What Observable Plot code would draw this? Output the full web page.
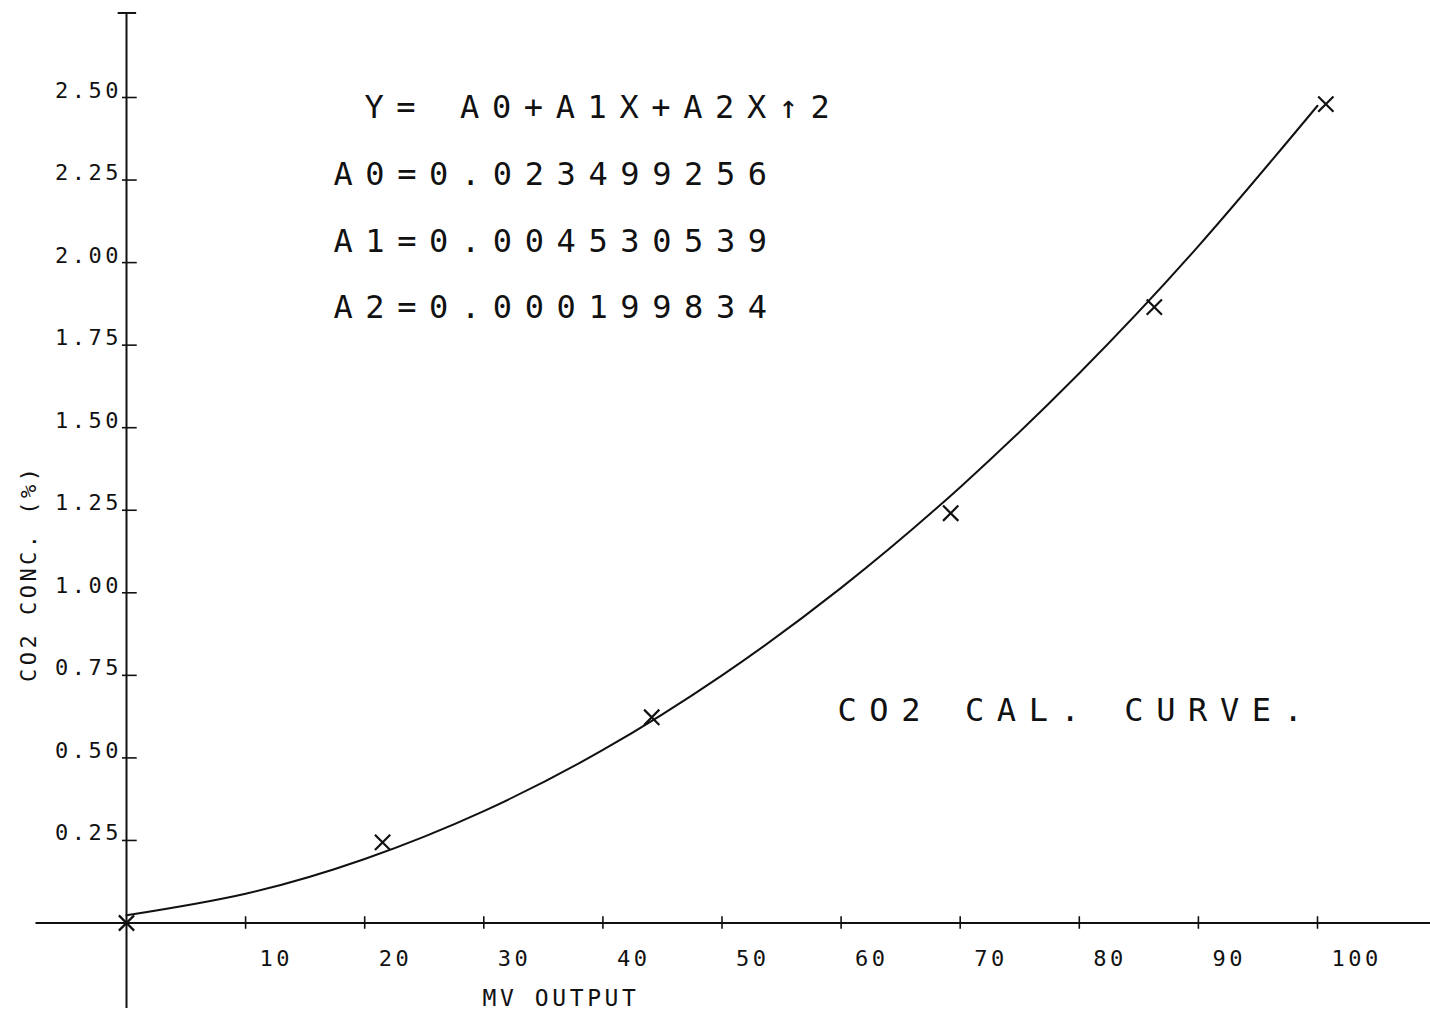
<!DOCTYPE html>
<html>
<head>
<meta charset="utf-8">
<script src="https://cdn.jsdelivr.net/npm/d3@7"></script>
<script src="https://cdn.jsdelivr.net/npm/@observablehq/plot@0.6"></script>
<style>
  html, body { margin: 0; padding: 0; background: #fff; }
  #chart svg { display: block; }
</style>
</head>
<body>
<div id="chart"></div>
<script>
// ---- data ----
const xTicks = [10, 20, 30, 40, 50, 60, 70, 80, 90, 100];
const xTickLabels = ["10", "20", "30", "40", "50", "60", "70", "80", "90", "100"];
const yTicks = [0.25, 0.5, 0.75, 1.0, 1.25, 1.5, 1.75, 2.0, 2.25, 2.5];
const yTickLabels = ["0.25", "0.50", "0.75", "1.00", "1.25", "1.50", "1.75", "2.00", "2.25", "2.50"];

// measured calibration points (MV output, CO2 %)
const pointX = [0, 21.5, 44.1, 69.2, 86.3, 100.7];
const pointY = [0.0, 0.244, 0.623, 1.241, 1.865, 2.48];

// fitted calibration curve
const curveX = [0, 10, 20, 30, 40, 50, 60, 70, 80, 90, 100];
const curveY = [0.0235, 0.0888, 0.194, 0.339, 0.524, 0.750, 1.015, 1.320, 1.665, 2.050, 2.475];

const titleX = "MV OUTPUT";
const titleY = "CO2 CONC. (%)";
const equationLines = ["Y= A0+A1X+A2X↑2", "A0=0.023499256", "A1=0.004530539", "A2=0.000199834"];
const chartNote = "CO2 CAL. CURVE.";

// ---- tables ----
const points = pointX.map((x, i) => ({x, y: pointY[i]}));
const curve = curveX.map((x, i) => ({x, y: curveY[i]}));
const xt = xTicks.map((v, i) => ({v, label: xTickLabels[i]}));
const yt = yTicks.map((v, i) => ({v, label: yTickLabels[i]}));

const ink = "#111";
const chart = Plot.plot({
  width: 1430,
  height: 1011,
  marginLeft: 126,
  marginRight: 113,
  marginTop: 97,
  marginBottom: 88.5,
  x: {domain: [0, 100], axis: null},
  y: {domain: [0, 2.5], axis: null},
  style: {fontFamily: "'DejaVu Sans Mono', monospace", background: "#fff", color: ink},
  marks: [
    // axes
    Plot.ruleY([0], {x1: -7.6, x2: 109.6, stroke: ink, strokeWidth: 2}),
    Plot.ruleX([0], {y1: -0.259, y2: 2.756, stroke: ink, strokeWidth: 2}),
    Plot.ruleY([2.756], {x1: -0.7, x2: 0.85, stroke: ink, strokeWidth: 2}),
    // tick marks
    Plot.ruleX(xt, {x: "v", y1: -0.019, y2: 0.019, stroke: ink, strokeWidth: 1.6}),
    Plot.ruleY(yt, {y: "v", x1: -0.34, x2: 0.9, stroke: ink, strokeWidth: 1.6}),
    // tick labels
    Plot.text(xt, {x: "v", y: 0, text: "label", textAnchor: "start", lineAnchor: "middle",
      dx: 14, dy: 36, fontSize: 22, fill: ink}),
    Plot.text(yt, {x: 0, y: "v", text: "label", textAnchor: "end", lineAnchor: "middle",
      dx: -4.5, dy: -7, fontSize: 22, fill: ink}),
    // axis titles
    Plot.text([titleX], {frameAnchor: "bottom", text: d => d, textAnchor: "middle", lineAnchor: "middle",
      dx: -161, dy: 76, fontSize: 23, fill: ink}),
    Plot.text([titleY], {frameAnchor: "left", text: d => d, rotate: -90, textAnchor: "middle",
      lineAnchor: "middle", dx: -98, dy: 63, fontSize: 22, fill: ink}),
    // fitted curve and data points
    Plot.line(curve, {x: "x", y: "y", curve: "natural", stroke: ink, strokeWidth: 2}),
    Plot.dot(points, {x: "x", y: "y", symbol: "times", r: 7, stroke: ink, strokeWidth: 2.2}),
    // annotations
    Plot.text([equationLines[0]], {frameAnchor: "top-left", text: d => d, textAnchor: "start",
      lineAnchor: "middle", dx: 238, dy: 10, fontSize: 32, fill: ink}),
    Plot.text([equationLines[1]], {frameAnchor: "top-left", text: d => d, textAnchor: "start",
      lineAnchor: "middle", dx: 207, dy: 77, fontSize: 32, fill: ink}),
    Plot.text([equationLines[2]], {frameAnchor: "top-left", text: d => d, textAnchor: "start",
      lineAnchor: "middle", dx: 207, dy: 144, fontSize: 32, fill: ink}),
    Plot.text([equationLines[3]], {frameAnchor: "top-left", text: d => d, textAnchor: "start",
      lineAnchor: "middle", dx: 207, dy: 210, fontSize: 32, fill: ink}),
    Plot.text([chartNote], {frameAnchor: "top-left", text: d => d, textAnchor: "start",
      lineAnchor: "middle", dx: 711, dy: 613, fontSize: 32, fill: ink})
  ]
});

// plotter-style wide character pitch
const spacing = {"22": 3.5, "23": 3.6, "32": 12.6};
chart.querySelectorAll("g[font-size]").forEach(g => {
  const s = spacing[g.getAttribute("font-size")];
  if (s != null) g.setAttribute("letter-spacing", s);
});

document.getElementById("chart").appendChild(chart);
</script>
</body>
</html>
